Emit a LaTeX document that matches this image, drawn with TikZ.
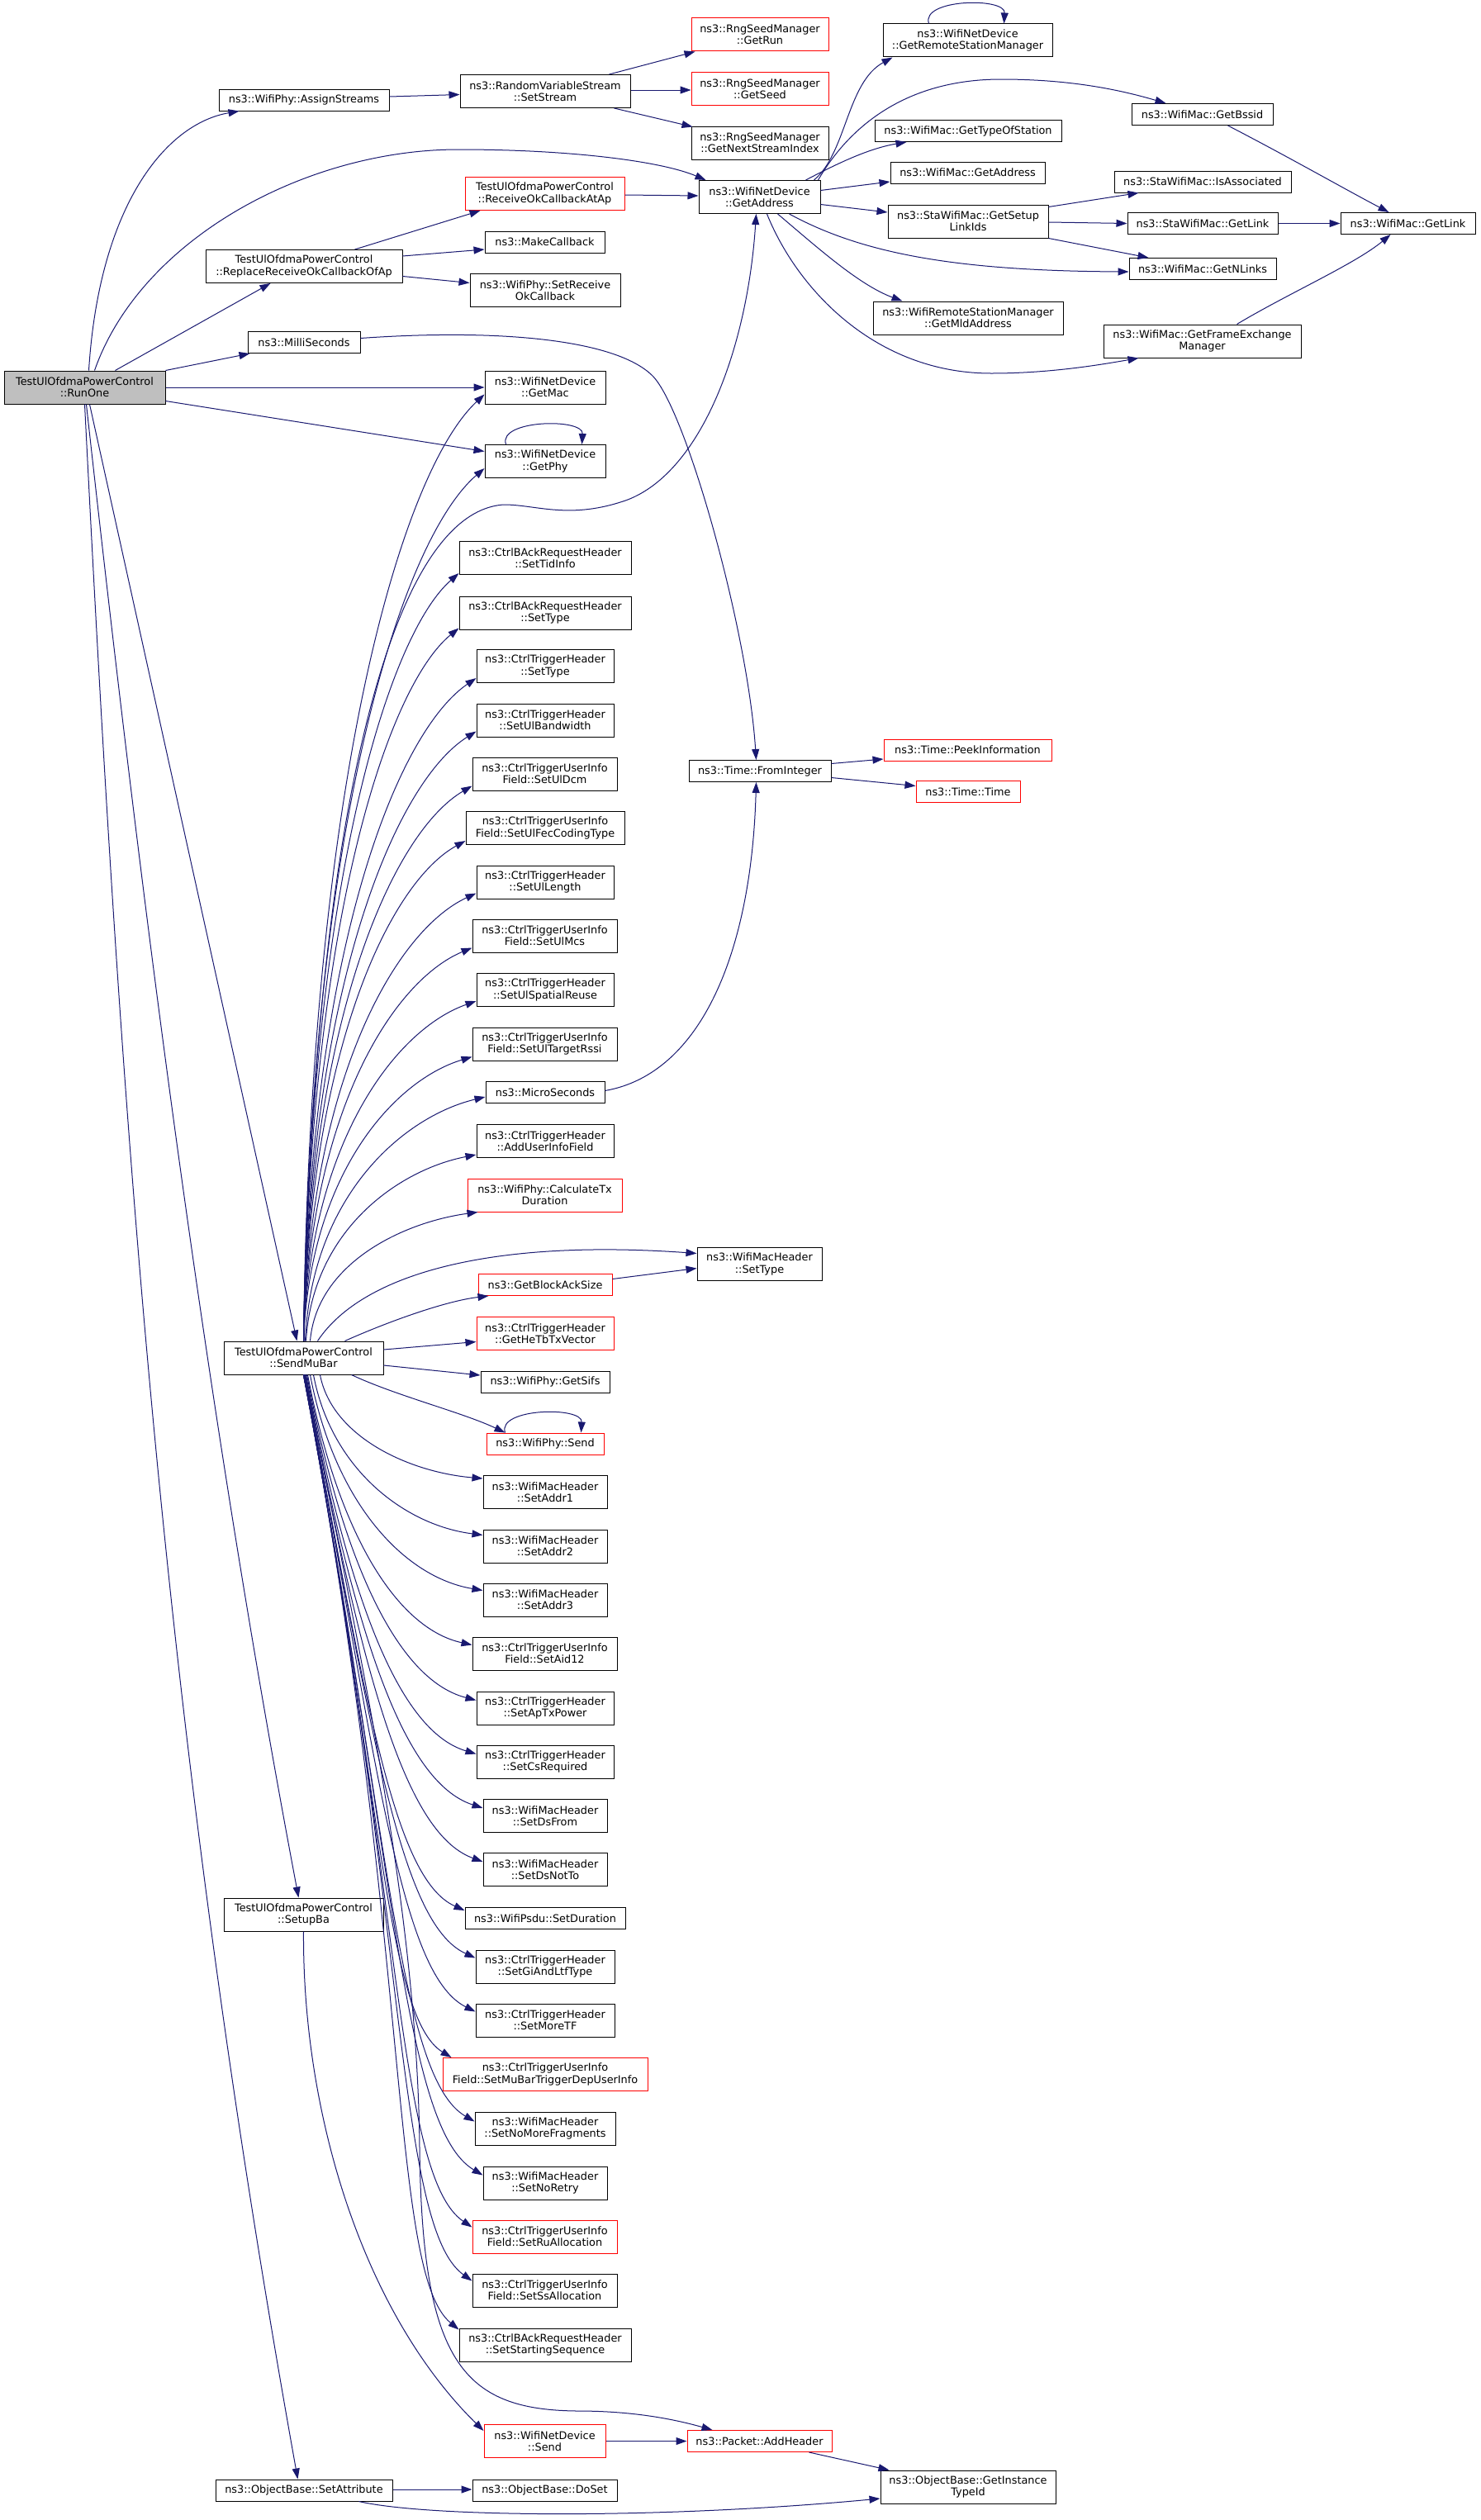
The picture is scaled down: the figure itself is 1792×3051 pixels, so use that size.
\documentclass[tikz,border=0pt]{standalone}
\usepackage{fontspec}
\newfontfamily\dvs{DejaVu Sans}
\usetikzlibrary{arrows.meta,calc}
\definecolor{navy}{HTML}{191970}
\definecolor{nodegray}{HTML}{BFBFBF}
\tikzset{
 nd/.style={draw=black, line width=1pt, rectangle, inner sep=0pt, align=center, font=\dvs\fontsize{12.85}{14.3}\selectfont, text=black},
 rd/.style={nd, draw=red},
 cg/.style={draw=navy, line width=1pt, -{Triangle[length=13pt,width=9pt]}},
}
\newcommand\fanup[2]{\draw[cg] let \p1=(#1), \p2=(#2) in (\p1) .. controls ({\x1+8pt}, {\y1+0.6*(\y2-\y1)}) and ({\x2-0.45*(\x2-\x1)}, {\y2-0.08*(\y2-\y1)}) .. (\p2);}
\newcommand\fandown[2]{\draw[cg] let \p1=(#1), \p2=(#2) in (\p1) .. controls ({\x1-0.114*(\y2-\y1)}, {\y1+0.6*(\y2-\y1)}) and ({\x2-0.45*(\x2-\x1)}, {\y2-0.06*(\y2-\y1)}) .. (\p2);}
\begin{document}
\begin{tikzpicture}[x=1pt,y=-1pt]
\useasboundingbox (0,0) rectangle (1792,3051);
% ---------- nodes ----------
\node[nd,fill=nodegray,minimum width=195pt,minimum height=40pt] (runone) at (102.5,469) {TestUlOfdmaPowerControl\\::RunOne};
\node[nd,minimum width=206pt,minimum height=26pt] (assign) at (368,121) {ns3::WifiPhy::AssignStreams};
\node[nd,minimum width=206pt,minimum height=40pt] (setstream) at (660,110.5) {ns3::RandomVariableStream\\::SetStream};
\node[rd,minimum width=166pt,minimum height=40pt] (getrun) at (920,42) {ns3::RngSeedManager\\::GetRun};
\node[rd,minimum width=166pt,minimum height=40pt] (getseed) at (920,107.5) {ns3::RngSeedManager\\::GetSeed};
\node[nd,minimum width=166pt,minimum height=40pt] (getnext) at (920,173) {ns3::RngSeedManager\\::GetNextStreamIndex};
\node[rd,minimum width=193pt,minimum height=40pt] (rxok) at (659.5,234.5) {TestUlOfdmaPowerControl\\::ReceiveOkCallbackAtAp};
\node[nd,minimum width=147pt,minimum height=40pt] (getaddr) at (919.5,238.5) {ns3::WifiNetDevice\\::GetAddress};
\node[nd,minimum width=145pt,minimum height=26pt] (makecb) at (659.5,293) {ns3::MakeCallback};
\node[nd,minimum width=238pt,minimum height=40pt] (replace) at (368,322.5) {TestUlOfdmaPowerControl\\::ReplaceReceiveOkCallbackOfAp};
\node[nd,minimum width=182pt,minimum height=40pt] (setrxok) at (660,351.5) {ns3::WifiPhy::SetReceive\\OkCallback};
\node[nd,minimum width=136pt,minimum height=26pt] (milli) at (368,414.5) {ns3::MilliSeconds};
\node[nd,minimum width=146pt,minimum height=40pt] (getmac) at (660,469) {ns3::WifiNetDevice\\::GetMac};
\node[nd,minimum width=146pt,minimum height=40pt] (getphy) at (660,558.5) {ns3::WifiNetDevice\\::GetPhy};
\node[nd,minimum width=205pt,minimum height=40pt] (remsm) at (1171.5,49) {ns3::WifiNetDevice\\::GetRemoteStationManager};
\node[nd,minimum width=171pt,minimum height=26pt] (bssid) at (1455.5,138.5) {ns3::WifiMac::GetBssid};
\node[nd,minimum width=226pt,minimum height=26pt] (typesta) at (1172,158.5) {ns3::WifiMac::GetTypeOfStation};
\node[nd,minimum width=187pt,minimum height=26pt] (macaddr) at (1171.5,209) {ns3::WifiMac::GetAddress};
\node[nd,minimum width=214pt,minimum height=26pt] (assoc) at (1456,220) {ns3::StaWifiMac::IsAssociated};
\node[nd,minimum width=194pt,minimum height=40pt] (setuplink) at (1172,268) {ns3::StaWifiMac::GetSetup\\LinkIds};
\node[nd,minimum width=182pt,minimum height=26pt] (stalink) at (1456,270.5) {ns3::StaWifiMac::GetLink};
\node[nd,minimum width=163pt,minimum height=26pt] (maclink) at (1704.5,270.5) {ns3::WifiMac::GetLink};
\node[nd,minimum width=178pt,minimum height=26pt] (nlinks) at (1456,325.5) {ns3::WifiMac::GetNLinks};
\node[nd,minimum width=230pt,minimum height=40pt] (mld) at (1172,385) {ns3::WifiRemoteStationManager\\::GetMldAddress};
\node[nd,minimum width=239pt,minimum height=40pt] (fem) at (1455.5,413) {ns3::WifiMac::GetFrameExchange\\Manager};
\node[nd,minimum width=208pt,minimum height=40pt] (tidinfo) at (660,675.5) {ns3::CtrlBAckRequestHeader\\::SetTidInfo};
\node[nd,minimum width=208pt,minimum height=40pt] (barsettype) at (660,742) {ns3::CtrlBAckRequestHeader\\::SetType};
\node[nd,minimum width=166pt,minimum height=40pt] (trigsettype) at (660,806.5) {ns3::CtrlTriggerHeader\\::SetType};
\node[nd,minimum width=166pt,minimum height=40pt] (ulbw) at (660,872) {ns3::CtrlTriggerHeader\\::SetUlBandwidth};
\node[nd,minimum width=175pt,minimum height=40pt] (uldcm) at (659.5,937) {ns3::CtrlTriggerUserInfo\\Field::SetUlDcm};
\node[nd,minimum width=192pt,minimum height=40pt] (ulfec) at (660,1002.5) {ns3::CtrlTriggerUserInfo\\Field::SetUlFecCodingType};
\node[nd,minimum width=166pt,minimum height=40pt] (ullen) at (660,1068) {ns3::CtrlTriggerHeader\\::SetUlLength};
\node[nd,minimum width=175pt,minimum height=40pt] (ulmcs) at (659.5,1133) {ns3::CtrlTriggerUserInfo\\Field::SetUlMcs};
\node[nd,minimum width=166pt,minimum height=40pt] (ulsr) at (660,1198.5) {ns3::CtrlTriggerHeader\\::SetUlSpatialReuse};
\node[nd,minimum width=175pt,minimum height=40pt] (ulrssi) at (659.5,1264) {ns3::CtrlTriggerUserInfo\\Field::SetUlTargetRssi};
\node[nd,minimum width=144pt,minimum height=26pt] (micro) at (660,1322.5) {ns3::MicroSeconds};
\node[nd,minimum width=172pt,minimum height=26pt] (fromint) at (920,933.5) {ns3::Time::FromInteger};
\node[rd,minimum width=203pt,minimum height=26pt] (peek) at (1171.5,908) {ns3::Time::PeekInformation};
\node[rd,minimum width=126pt,minimum height=26pt] (time) at (1172,958.5) {ns3::Time::Time};
\node[nd,minimum width=166pt,minimum height=40pt] (adduif) at (660,1381.5) {ns3::CtrlTriggerHeader\\::AddUserInfoField};
\node[rd,minimum width=187pt,minimum height=40pt] (calctx) at (659.5,1447) {ns3::WifiPhy::CalculateTx\\Duration};
\node[nd,minimum width=151pt,minimum height=40pt] (machdrtype) at (919.5,1530.5) {ns3::WifiMacHeader\\::SetType};
\node[rd,minimum width=162pt,minimum height=26pt] (baksize) at (660,1555.5) {ns3::GetBlockAckSize};
\node[rd,minimum width=166pt,minimum height=40pt] (hetb) at (660,1614.5) {ns3::CtrlTriggerHeader\\::GetHeTbTxVector};
\node[nd,minimum width=193pt,minimum height=40pt] (smb) at (367.5,1644) {TestUlOfdmaPowerControl\\::SendMuBar};
\node[nd,minimum width=156pt,minimum height=26pt] (sifs) at (660,1673) {ns3::WifiPhy::GetSifs};
\node[rd,minimum width=142pt,minimum height=26pt] (physend) at (660,1748) {ns3::WifiPhy::Send};
\node[nd,minimum width=150pt,minimum height=40pt] (addr1) at (660,1806.5) {ns3::WifiMacHeader\\::SetAddr1};
\node[nd,minimum width=150pt,minimum height=40pt] (addr2) at (660,1872) {ns3::WifiMacHeader\\::SetAddr2};
\node[nd,minimum width=150pt,minimum height=40pt] (addr3) at (660,1937) {ns3::WifiMacHeader\\::SetAddr3};
\node[nd,minimum width=175pt,minimum height=40pt] (aid12) at (659.5,2002) {ns3::CtrlTriggerUserInfo\\Field::SetAid12};
\node[nd,minimum width=166pt,minimum height=40pt] (aptx) at (660,2068) {ns3::CtrlTriggerHeader\\::SetApTxPower};
\node[nd,minimum width=166pt,minimum height=40pt] (csreq) at (660,2133) {ns3::CtrlTriggerHeader\\::SetCsRequired};
\node[nd,minimum width=150pt,minimum height=40pt] (dsfrom) at (660,2198.5) {ns3::WifiMacHeader\\::SetDsFrom};
\node[nd,minimum width=150pt,minimum height=40pt] (dsnotto) at (660,2263.5) {ns3::WifiMacHeader\\::SetDsNotTo};
\node[nd,minimum width=194pt,minimum height=26pt] (psdudur) at (660,2322.5) {ns3::WifiPsdu::SetDuration};
\node[nd,minimum width=193pt,minimum height=40pt] (setupba) at (367.5,2318) {TestUlOfdmaPowerControl\\::SetupBa};
\node[nd,minimum width=168pt,minimum height=40pt] (giltf) at (660,2381) {ns3::CtrlTriggerHeader\\::SetGiAndLtfType};
\node[nd,minimum width=168pt,minimum height=40pt] (moretf) at (660,2446) {ns3::CtrlTriggerHeader\\::SetMoreTF};
\node[rd,minimum width=248pt,minimum height=40pt] (mubardep) at (660,2511.5) {ns3::CtrlTriggerUserInfo\\Field::SetMuBarTriggerDepUserInfo};
\node[nd,minimum width=170pt,minimum height=40pt] (nomorefrag) at (660,2577) {ns3::WifiMacHeader\\::SetNoMoreFragments};
\node[nd,minimum width=150pt,minimum height=40pt] (noretry) at (660,2643) {ns3::WifiMacHeader\\::SetNoRetry};
\node[rd,minimum width=175pt,minimum height=40pt] (ruall) at (659.5,2708) {ns3::CtrlTriggerUserInfo\\Field::SetRuAllocation};
\node[nd,minimum width=175pt,minimum height=40pt] (ssall) at (659.5,2773) {ns3::CtrlTriggerUserInfo\\Field::SetSsAllocation};
\node[nd,minimum width=208pt,minimum height=40pt] (startseq) at (660,2839) {ns3::CtrlBAckRequestHeader\\::SetStartingSequence};
\node[rd,minimum width=147pt,minimum height=40pt] (devsend) at (659.5,2955.5) {ns3::WifiNetDevice\\::Send};
\node[rd,minimum width=175pt,minimum height=26pt] (addhdr) at (919.5,2955.5) {ns3::Packet::AddHeader};
\node[nd,minimum width=214pt,minimum height=26pt] (setattr) at (368,3015) {ns3::ObjectBase::SetAttribute};
\node[nd,minimum width=175pt,minimum height=26pt] (doset) at (659.5,3015) {ns3::ObjectBase::DoSet};
\node[nd,minimum width=212pt,minimum height=40pt] (gitid) at (1172,3011) {ns3::ObjectBase::GetInstance\\TypeId};
% ---------- edges from RunOne ----------
\draw[cg] ($(runone.north west)+(103,0)$) .. controls (120,250) and (200,150) .. ($(assign.south west)+(25,0)$);
\draw[cg] ($(runone.north west)+(110,0)$) .. controls (170,290) and (370,181) .. (555,181) .. controls (690,181) and (800,195) .. ($(getaddr.north west)+(9,0)$);
\draw[cg] ($(runone.north west)+(135,0)$) -- ($(replace.south west)+(79,0)$);
\draw[cg] (runone.north east) -- ($(milli.south west)+(3,0)$);
\draw[cg] (runone.east) -- (getmac.west);
\draw[cg] ($(runone.south east)+(0,-4)$) -- ($(getphy.west)+(0,-12)$);
\draw[cg] ($(runone.south west)+(104,0)$) -- ($(smb.north west)+(89,0)$);
\draw[cg] ($(runone.south west)+(100,0)$) .. controls (171,1089) and (248,1697) .. ($(setupba.north west)+(91,0)$);
\draw[cg] ($(runone.south west)+(98,0)$) .. controls (148,1389) and (199,2101) .. ($(setattr.north west)+(100,0)$);
% ---------- upper part ----------
\draw[cg] ($(assign.east)+(0,-4)$) -- ($(setstream.west)+(0,4)$);
\draw[cg] ($(setstream.north east)+(-26,0)$) -- ($(getrun.south west)+(5,0)$);
\draw[cg] ($(setstream.east)+(0,-1.5)$) -- ($(getseed.west)+(0,1.5)$);
\draw[cg] ($(setstream.south east)+(-20,0)$) -- ($(getnext.north west)+(2,1)$);
\draw[cg] ($(replace.north west)+(181,0)$) -- ($(rxok.south west)+(19,0)$);
\draw[cg] ($(replace.north east)+(0,8)$) -- ($(makecb.west)+(0,9)$);
\draw[cg] ($(replace.east)+(0,12)$) -- ($(setrxok.west)+(0,-9)$);
\draw[cg] ($(rxok.east)+(0,1.5)$) -- ($(getaddr.west)+(0,-1.5)$);
\draw[cg] ($(milli.east)+(0,-5)$) .. controls (600,398) and (745,410) .. (790,455) .. controls (830,495) and (905,760) .. ($(fromint.north west)+(82,0)$);
\draw[cg] ($(micro.east)+(0,-2)$) .. controls (850,1300) and (910,1150) .. ($(fromint.south west)+(82,0)$);
\draw[cg] ($(fromint.east)+(0,-9)$) -- ($(peek.west)+(0,11)$);
\draw[cg] ($(fromint.east)+(0,8)$) -- ($(time.west)+(0,-7)$);
\draw[cg] ($(getaddr.north east)+(-8,0)$) .. controls (1025,185) and (1025,100) .. ($(remsm.south west)+(12,0)$);
\draw[cg] ($(getaddr.north east)+(-3,0)$) .. controls (1030,150) and (1100,96) .. (1212,96) .. controls (1300,96) and (1360,110) .. ($(bssid.north west)+(42,0)$);
\draw[cg] ($(getaddr.north east)+(-18,0)$) .. controls (1010,200) and (1050,180) .. ($(typesta.south west)+(39,0)$);
\draw[cg] ($(getaddr.east)+(0,-8)$) -- ($(macaddr.west)+(0,11)$);
\draw[cg] ($(getaddr.east)+(0,9)$) -- ($(setuplink.west)+(0,-11)$);
\draw[cg] ($(getaddr.south east)+(-38,0)$) .. controls (1040,305) and (1150,328) .. ($(nlinks.west)+(0,3.5)$);
\draw[cg] ($(getaddr.south west)+(96,0)$) .. controls (990,300) and (1040,345) .. ($(mld.north west)+(36,0)$);
\draw[cg] ($(getaddr.south west)+(83,0)$) .. controls (965,350) and (1060,452) .. (1200,452) .. controls (1270,452) and (1330,442) .. ($(fem.south west)+(43,0)$);
\draw[cg] ($(bssid.south west)+(117,0)$) .. controls (1560,190) and (1630,230) .. ($(maclink.north west)+(59,0)$);
\draw[cg] ($(setuplink.north east)+(0,3)$) -- ($(assoc.south west)+(30,0)$);
\draw[cg] ($(setuplink.east)+(0,1)$) -- (stalink.west);
\draw[cg] (setuplink.south east) -- ($(nlinks.north west)+(24,0)$);
\draw[cg] (stalink.east) -- (maclink.west);
\draw[cg] ($(fem.north west)+(162,0)$) .. controls (1560,355) and (1640,320) .. ($(maclink.south west)+(61,0)$);
% self loops
\draw[cg] ($(remsm.north west)+(56,0)$) .. controls +(-10,-30) and +(2,-32) .. ($(remsm.north west)+(147,0)$);
\draw[cg] ($(getphy.north west)+(26,0)$) .. controls +(-10,-30) and +(2,-32) .. ($(getphy.north west)+(118,0)$);
\draw[cg] ($(physend.north west)+(23,0)$) .. controls +(-10,-30) and +(2,-32) .. ($(physend.north west)+(115,0)$);
% ---------- SendMuBar ----------
\draw[cg] (smb.north) .. controls (380,1000) and (470,620) .. (610,611) .. controls (650,611) and (690,630) .. (760,605) .. controls (850,570) and (905,420) .. ($(getaddr.south west)+(70,0)$);
\fanup{smb.north}{$(getmac.south west)+(0,-12)$}
\fanup{smb.north}{$(getphy.south west)+(0,-12)$}
\fanup{smb.north}{$(tidinfo.south west)+(0,-2)$}
\fanup{smb.north}{$(barsettype.south west)+(0,-2)$}
\fanup{smb.north}{$(trigsettype.south west)+(0,-6)$}
\fanup{smb.north}{$(ulbw.south west)+(0,-7)$}
\fanup{smb.north}{$(uldcm.south west)+(0,-6)$}
\fanup{smb.north}{$(ulfec.south west)+(0,-5)$}
\fanup{smb.north}{$(ullen.south west)+(0,-7)$}
\fanup{smb.north}{$(ulmcs.south west)+(0,-6)$}
\fanup{smb.north}{$(ulsr.south west)+(0,-7)$}
\fanup{smb.north}{$(ulrssi.south west)+(0,-5)$}
\fanup{$(smb.north)+(2,0)$}{$(micro.south west)+(0,-8)$}
\fanup{$(smb.north)+(3,0)$}{$(adduif.south west)+(0,-4)$}
\fanup{$(smb.north)+(8,0)$}{$(calctx.south west)+(13,0)$}
\draw[cg] ($(smb.north)+(17,0)$) .. controls (440,1540) and (600,1500) .. ($(machdrtype.west)+(0,-13)$);
\draw[cg] ($(smb.north)+(50,0)$) .. controls (470,1600) and (540,1575) .. ($(baksize.south west)+(13,0)$);
\draw[cg] ($(baksize.east)+(0,-7)$) -- ($(machdrtype.west)+(0,5)$);
\draw[cg] ($(smb.east)+(0,-10)$) -- ($(hetb.west)+(0,10)$);
\draw[cg] ($(smb.east)+(0,9)$) -- ($(sifs.west)+(0,-8)$);
\draw[cg] ($(smb.south)+(58,0)$) .. controls (480,1690) and (560,1710) .. ($(physend.north west)+(23,0)$);
\fandown{$(smb.south)+(20,0)$}{$(addr1.north west)+(0,4)$}
\fandown{$(smb.south)+(12,0)$}{$(addr2.north west)+(0,7)$}
\fandown{$(smb.south)+(8,0)$}{$(addr3.north west)+(0,9)$}
\fandown{$(smb.south)+(5,0)$}{$(aid12.north west)+(0,10)$}
\fandown{$(smb.south)+(4,0)$}{$(aptx.north west)+(0,11)$}
\fandown{$(smb.south)+(3,0)$}{$(csreq.north west)+(0,11)$}
\fandown{$(smb.south)+(2,0)$}{$(dsfrom.north west)+(0,11)$}
\fandown{$(smb.south)+(2,0)$}{$(dsnotto.north west)+(0,11)$}
\fandown{$(smb.south)+(1,0)$}{$(psdudur.north west)+(0,4)$}
\fandown{$(smb.south)+(1,0)$}{$(giltf.north west)+(0,10)$}
\fandown{$(smb.south)+(1,0)$}{$(moretf.north west)+(0,10)$}
\fandown{smb.south}{$(mubardep.north west)+(11,0)$}
\fandown{smb.south}{$(nomorefrag.north west)+(0,12)$}
\fandown{smb.south}{$(noretry.north west)+(0,11)$}
\fandown{smb.south}{$(ruall.north west)+(0,9)$}
\fandown{smb.south}{$(ssall.north west)+(0,9)$}
\fandown{smb.south}{$(startseq.north west)+(0,2)$}
\draw[cg] ($(smb.south)+(2,0)$) .. controls (430,1980) and (505,2300) .. (508,2600) .. controls (511,2860) and (560,2918) .. (700,2919) .. controls (770,2919) and (820,2930) .. ($(addhdr.north west)+(31,0)$);
% ---------- bottom ----------
\draw[cg] (setupba.south) .. controls (366,2560) and (440,2800) .. ($(devsend.north west)+(0,8)$);
\draw[cg] (devsend.east) -- (addhdr.west);
\draw[cg] ($(addhdr.south east)+(-28,0)$) -- ($(gitid.north west)+(11,0)$);
\draw[cg] ($(setattr.east)+(0,-1)$) -- ($(doset.west)+(0,-1)$);
\draw[cg] ($(setattr.south west)+(174,0)$) .. controls (520,3048) and (800,3050) .. ($(gitid.west)+(0,14)$);
\end{tikzpicture}
\end{document}
